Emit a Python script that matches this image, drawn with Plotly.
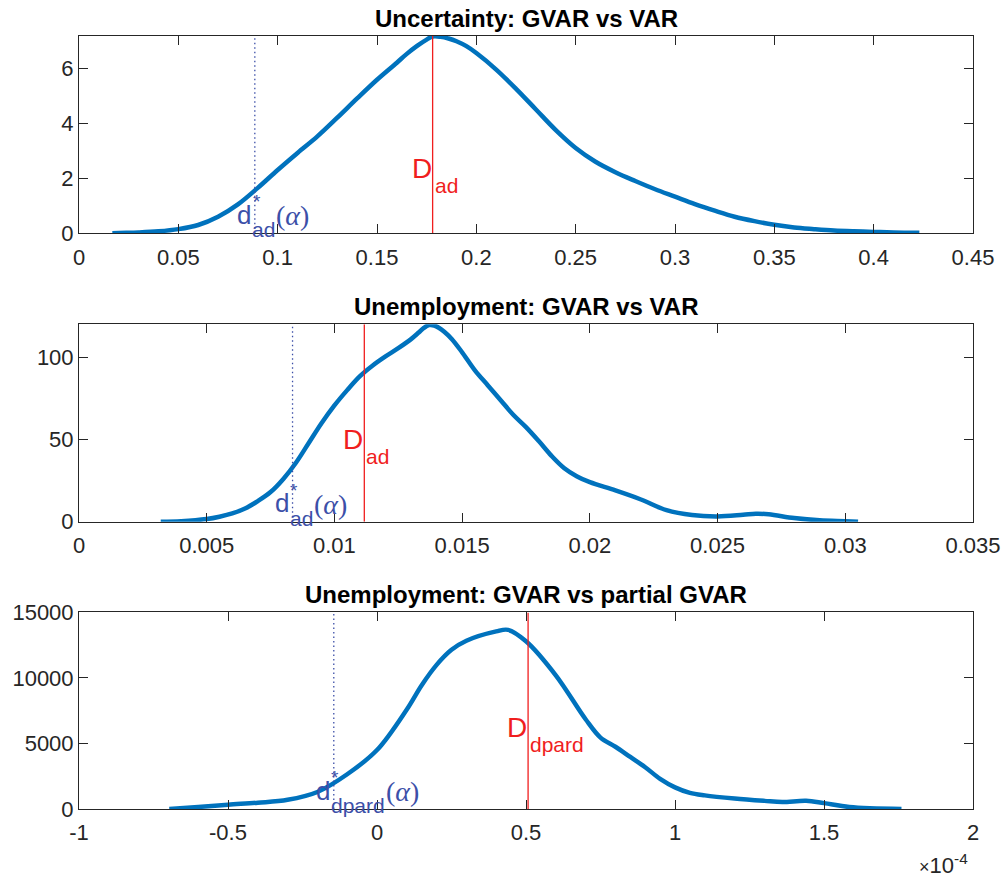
import plotly.graph_objects as go

# ---------------- data ----------------
# Panel 1: Uncertainty: GVAR vs VAR (kernel density)
unc_x = [0.0168, 0.02, 0.03, 0.04, 0.05, 0.06, 0.07, 0.08, 0.09, 0.10, 0.11, 0.12, 0.13, 0.14,
         0.15, 0.16, 0.165, 0.17, 0.175, 0.178, 0.182, 0.186, 0.19, 0.195, 0.20, 0.21, 0.22, 0.23,
         0.24, 0.25, 0.26, 0.27, 0.28, 0.29, 0.30, 0.31, 0.32, 0.33, 0.34, 0.35, 0.36, 0.37,
         0.38, 0.39, 0.40, 0.41, 0.423]
unc_y = [0.0, 0.01, 0.03, 0.07, 0.15, 0.30, 0.60, 1.05, 1.65, 2.30, 2.92, 3.52, 4.2, 4.9,
         5.58, 6.2, 6.52, 6.8, 7.04, 7.15, 7.14, 7.08, 6.98, 6.8, 6.55, 5.95, 5.25, 4.5,
         3.75, 3.1, 2.6, 2.22, 1.9, 1.6, 1.33, 1.06, 0.82, 0.6, 0.44, 0.31, 0.21, 0.15,
         0.10, 0.07, 0.05, 0.03, 0.02]
unc_dstar = 0.0885
unc_D = 0.178

# Panel 2: Unemployment: GVAR vs VAR
une_x = [0.0032, 0.004, 0.005, 0.0055, 0.006, 0.0065, 0.007, 0.0075, 0.008, 0.0085, 0.009,
         0.0095, 0.010, 0.0105, 0.011, 0.0115, 0.012, 0.0125, 0.013, 0.0133, 0.0135, 0.0137,
         0.0139, 0.0141, 0.0143, 0.0146, 0.015, 0.0155, 0.016, 0.0165, 0.017, 0.0175, 0.018,
         0.0185, 0.019, 0.0195, 0.020, 0.021, 0.022, 0.023, 0.024, 0.025, 0.026, 0.0265, 0.027,
         0.028, 0.029, 0.030, 0.0305]
une_y = [0.0, 0.3, 1.6, 3.0, 5.0, 8.0, 12.5, 18.0, 26.0, 36.0, 48.0,
         60.0, 70.7, 80.0, 88.5, 95.0, 100.5, 105.5, 111.0, 115.0, 117.8, 119.5,
         119.3, 117.8, 115.5, 111.0, 103.0, 92.0, 83.0, 74.0, 65.0, 57.5, 49.0,
         40.0, 32.5, 27.5, 24.0, 19.0, 13.5, 7.0, 4.0, 3.2, 4.2, 4.8, 4.5,
         2.2, 0.8, 0.3, 0.0]
une_dstar = 0.00836
une_D = 0.01117

# Panel 3: Unemployment: GVAR vs partial GVAR (x in units of 1e-4)
par_x = [-0.697, -0.6, -0.5, -0.4, -0.3, -0.2, -0.1, 0.0, 0.1, 0.15, 0.2, 0.25, 0.3, 0.4, 0.44,
         0.5, 0.6, 0.7, 0.75, 0.8, 0.85, 0.9, 0.95, 1.0, 1.05, 1.1, 1.2, 1.3, 1.36, 1.44, 1.5,
         1.585, 1.76]
par_y = [0, 150, 330, 480, 700, 1300, 2650, 4500, 7600, 9450, 11000, 12150, 12840, 13550, 13670,
         12800, 10200, 6850, 5450, 4750, 3970, 3190, 2300, 1650, 1230, 1040, 800, 620, 530, 630,
         450, 150, 0]
par_dstar = -0.145
par_D = 0.507

titles = ["Uncertainty: GVAR vs VAR", "Unemployment: GVAR vs VAR", "Unemployment: GVAR vs partial GVAR"]

x1_ticks = [0, 0.05, 0.1, 0.15, 0.2, 0.25, 0.3, 0.35, 0.4, 0.45]
x1_text = ["0", "0.05", "0.1", "0.15", "0.2", "0.25", "0.3", "0.35", "0.4", "0.45"]
y1_ticks = [0, 2, 4, 6]
x2_ticks = [0, 0.005, 0.01, 0.015, 0.02, 0.025, 0.03, 0.035]
x2_text = ["0", "0.005", "0.01", "0.015", "0.02", "0.025", "0.03", "0.035"]
y2_ticks = [0, 50, 100]
x3_ticks = [-1, -0.5, 0, 0.5, 1, 1.5, 2]
x3_text = ["-1", "-0.5", "0", "0.5", "1", "1.5", "2"]
y3_ticks = [0, 5000, 10000, 15000]

ranges = [([0, 0.45], [0, 7.17]), ([0, 0.035], [0, 120]), ([-1, 2], [0, 15000])]

# ---------------- style ----------------
CURVE = "#0072BD"
RED = "#F01E1E"
BLUE = "#3C4FA8"
AX = "#262626"
FONT = "Liberation Sans, Arial, Helvetica, sans-serif"
SERIF = "Liberation Serif, DejaVu Serif, serif"

fig = go.Figure()

panels = [
    (unc_x, unc_y, unc_dstar, unc_D, "ad"),
    (une_x, une_y, une_dstar, une_D, "ad"),
    (par_x, par_y, par_dstar, par_D, "dpard"),
]
domains = [[0.7448, 1.0], [0.3717, 0.6270], [0.0, 0.2543]]
xticks = [(x1_ticks, x1_text), (x2_ticks, x2_text), (x3_ticks, x3_text)]
yticks = [y1_ticks, y2_ticks, y3_ticks]

annotations = []
for i, (xs, ys, dstar, D, sub) in enumerate(panels):
    n = "" if i == 0 else str(i + 1)
    xa, ya = "x" + n, "y" + n
    ymax = ranges[i][1][1]
    fig.add_trace(go.Scatter(x=xs, y=ys, mode="lines", xaxis=xa, yaxis=ya,
                             line=dict(color=CURVE, width=4.5, shape="spline", smoothing=1.0),
                             showlegend=False, hoverinfo="skip"))
    fig.add_trace(go.Scatter(x=[dstar, dstar], y=[0, ymax], mode="lines", xaxis=xa, yaxis=ya,
                             line=dict(color=BLUE, width=1.3, dash="1.5px,3px"),
                             showlegend=False, hoverinfo="skip"))
    fig.add_trace(go.Scatter(x=[D, D], y=[0, ymax], mode="lines", xaxis=xa, yaxis=ya,
                             line=dict(color=RED, width=1.3),
                             showlegend=False, hoverinfo="skip"))

    xt, xtt = xticks[i]
    axis_common = dict(showline=True, linecolor=AX, linewidth=1, mirror="ticks",
                       ticks="inside", ticklen=9, tickcolor=AX, tickwidth=1,
                       showgrid=False, zeroline=False, automargin=False,
                       tickfont=dict(family=FONT, size=22, color=AX))
    fig.layout["xaxis" + n] = dict(axis_common, domain=[0, 1], anchor=ya, range=ranges[i][0],
                                   tickvals=xt, ticktext=xtt, ticklabelstandoff=4)
    fig.layout["yaxis" + n] = dict(axis_common, domain=domains[i], anchor=xa, range=ranges[i][1],
                                   tickvals=yticks[i], ticktext=[str(v) for v in yticks[i]])

    # title
    annotations.append(dict(text="<b>%s</b>" % titles[i], xref="paper", yref="paper",
                            x=0.5, y=domains[i][1], xanchor="center", yanchor="bottom",
                            yshift=2, showarrow=False,
                            font=dict(family=FONT, size=24, color="#000000")))

    yr = ya + " domain"
    dshift_D = 65 if i == 0 else 82
    dshift_s = 48 if i == 0 else 65
    alpha_shift = 19 if sub == "ad" else 50
    pieces = [
        # blue critical-value label d*_sub(alpha)
        (dstar, -20, 18.3, "d", 26, BLUE, FONT, "left"),
        (dstar, 1.7, 31.5, "*", 19, BLUE, FONT, "center"),
        (dstar, -4.5, 3.5, sub, 21, BLUE, FONT, "left"),
        (dstar, alpha_shift, 17.5, "(<i>α</i>)", 28, BLUE, SERIF, "left"),
        # red statistic label D_sub
        (D, 1, dshift_D, "D", 28, RED, FONT, "right"),
        (D, 0, dshift_s, sub, 21, RED, FONT, "left"),
    ]
    for (xv, xs_, ys_, txt, sz, col, fam, anc) in pieces:
        annotations.append(dict(text=txt, xref=xa, yref=yr, x=xv, y=0, xanchor=anc,
                                yanchor="middle", xshift=xs_, yshift=ys_, showarrow=False,
                                font=dict(family=fam, size=sz, color=col)))

annotations.append(dict(text="<span style='font-size:18px'>×</span>10<sup>-4</sup>",
                        xref="paper", yref="paper", x=0.9966, y=-0.0708,
                        xanchor="right", yanchor="middle", showarrow=False,
                        font=dict(family=FONT, size=22, color=AX)))

fig.update_layout(width=1003, height=879, margin=dict(l=79, r=30, t=36, b=70),
                  paper_bgcolor="white", plot_bgcolor="white", annotations=annotations,
                  showlegend=False)

fig.write_html("out.html")
